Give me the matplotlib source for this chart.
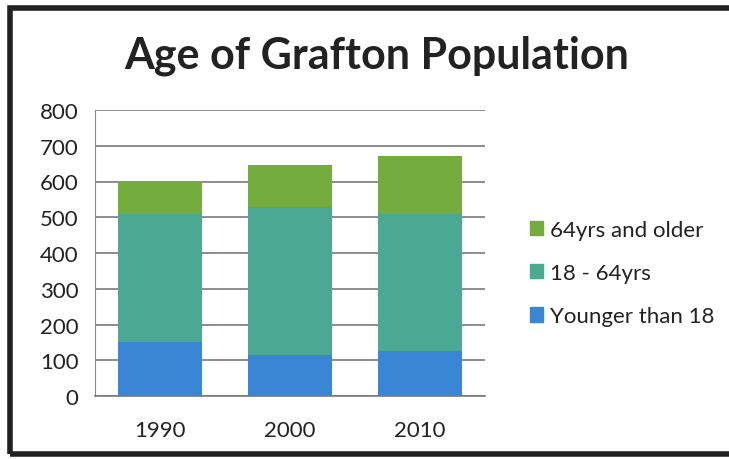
import matplotlib
matplotlib.use("Agg")
import matplotlib.pyplot as plt
from matplotlib.patches import Rectangle
import numpy as np

years = ["1990", "2000", "2010"]
younger = [150, 115, 125]
adults = [360, 415, 385]
older = [90, 115, 162]
series_names = ["Younger than 18", "18 - 64yrs", "64yrs and older"]
colors = ["#3a86d4", "#4aa893", "#74ad3e"]
yticks = [0, 100, 200, 300, 400, 500, 600, 700, 800]

plt.rcParams['font.family'] = ['Lato', 'DejaVu Sans']

fig = plt.figure(figsize=(7.29, 4.60), dpi=100)
fig.patch.set_facecolor("white")

# outer frame
frame = Rectangle((10/729, 1 - 455/460), 1.2, (455 - 9)/460, transform=fig.transFigure,
                  fill=False, edgecolor="#222222", linewidth=4, zorder=0)
fig.add_artist(frame)

ax = fig.add_axes([95/729, 1 - 397/460, (485 - 95)/729, (397 - 111)/460])
x = np.arange(len(years))
w = 0.64
ax.bar(x, younger, w, color=colors[0], zorder=3)
ax.bar(x, adults, w, bottom=younger, color=colors[1], zorder=3)
bottom3 = [a + b for a, b in zip(younger, adults)]
ax.bar(x, older, w, bottom=bottom3, color=colors[2], zorder=3)

ax.set_ylim(0, 800)
ax.set_xlim(-0.5, len(years) - 0.5)
ax.set_yticks(yticks)
ax.set_yticklabels([str(t) for t in yticks], fontsize=16, color="#222222")
ax.set_xticks(x)
ax.set_xticklabels(years, fontsize=16, color="#222222")
ax.tick_params(axis="y", length=0, pad=12)
ax.tick_params(axis="x", length=0, pad=17)
ax.yaxis.grid(True, color="#7a7a7a", linewidth=1.2, zorder=0)
for s in ["top", "right"]:
    ax.spines[s].set_visible(False)
ax.spines["left"].set_color("#8a8a8a")
ax.spines["bottom"].set_color("#7a7a7a")
ax.spines["bottom"].set_linewidth(1.2)

fig.text(377/729, 1 - 56/460, "Age of Grafton Population", ha="center", va="center",
         fontsize=31, fontweight="bold", color="#222222")

handles = [Rectangle((0, 0), 1, 1, color=c) for c in colors[::-1]]
leg = fig.legend(handles, series_names[::-1], loc="center left",
                 bbox_to_anchor=(510/729, 1 - 274/460), frameon=False,
                 fontsize=16, handlelength=0.6, handleheight=0.6,
                 handletextpad=0.3, labelspacing=1.05)
for t in leg.get_texts():
    t.set_color("#222222")

fig.savefig("out.png", dpi=100)
